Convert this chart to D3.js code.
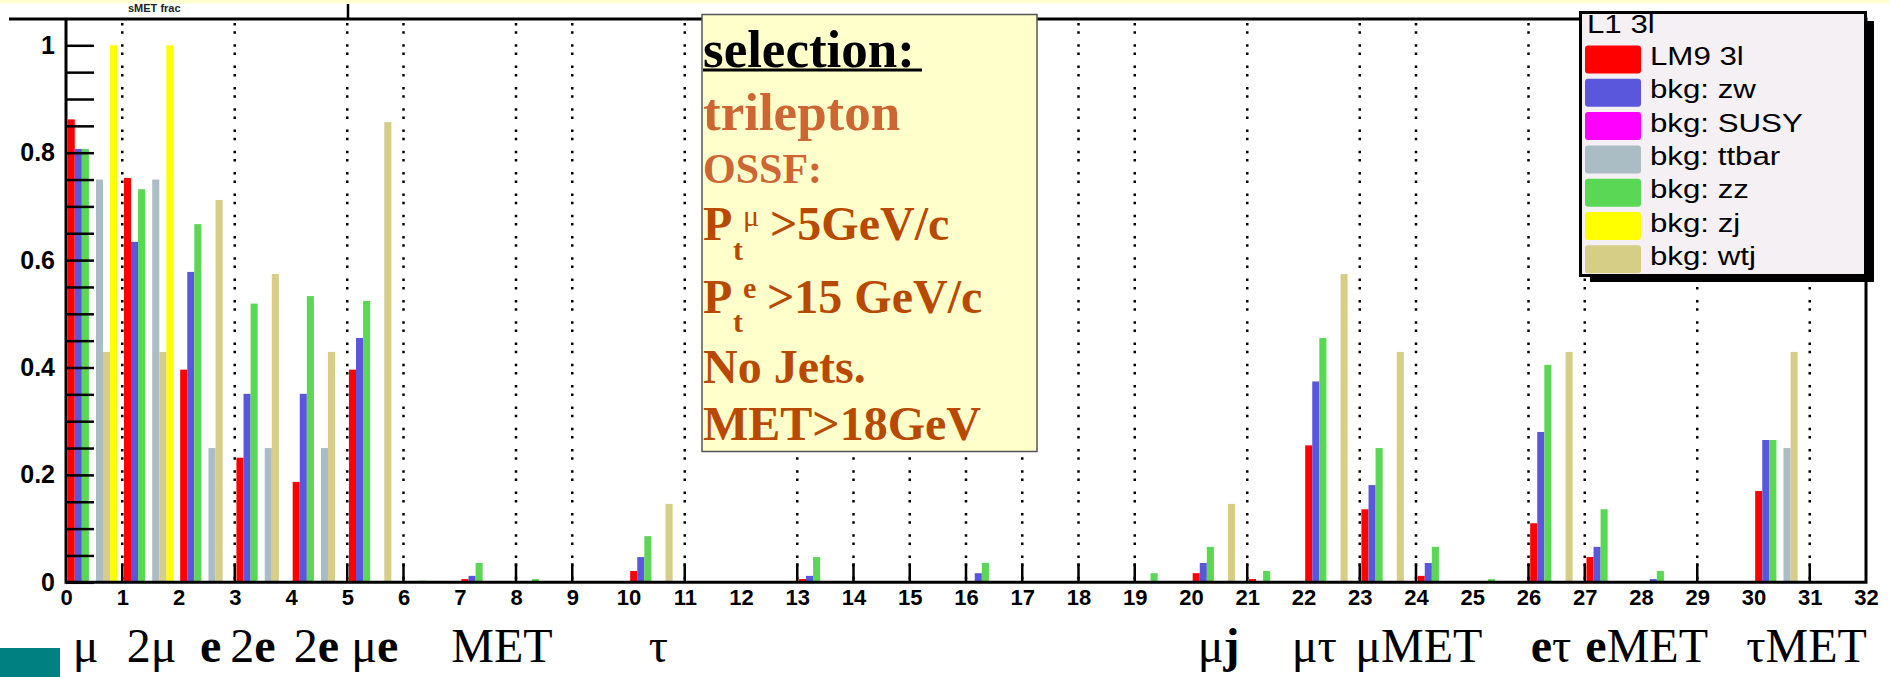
<!DOCTYPE html>
<html>
<head>
<meta charset="utf-8">
<script src="https://cdn.jsdelivr.net/npm/d3@7"></script>
<style>
body { margin: 0; background: #fff; }
svg { display: block; }
</style>
</head>
<body>
<script>
// histogram bins and axis ticks
const bins = d3.range(0, 32);
const xTicks = d3.range(0, 33);
const gridTicks = [1, 3, 5, 6, 8, 9, 11, 13, 14, 15, 16, 17, 18, 19, 21, 23, 24, 26, 27, 29, 31];
const yTicks = d3.range(0, 21).map(i => +(i * 0.05).toFixed(2));
const yLabels = [0, 0.2, 0.4, 0.6, 0.8, 1];

// series, one value per bin
const seriesNames = ['LM9 3l', 'bkg: zw', 'bkg: SUSY', 'bkg: ttbar', 'bkg: zz', 'bkg: zj', 'bkg: wtj'];
const lm9   = [0.862, 0.753, 0.396, 0.232, 0.187, 0.396, 0, 0.006, 0, 0, 0.021, 0, 0, 0.006, 0, 0, 0, 0, 0, 0, 0.017, 0.006, 0.255, 0.136, 0.012, 0, 0.110, 0.047, 0, 0, 0.170, 0];
const zw    = [0.807, 0.634, 0.578, 0.351, 0.351, 0.455, 0, 0.012, 0, 0, 0.047, 0, 0, 0.012, 0, 0, 0.017, 0, 0, 0, 0.036, 0, 0.374, 0.181, 0.036, 0, 0.280, 0.066, 0.006, 0, 0.265, 0];
const susy  = [0, 0, 0, 0, 0, 0, 0, 0, 0, 0, 0, 0, 0, 0, 0, 0, 0, 0, 0, 0, 0, 0, 0, 0, 0, 0, 0, 0, 0, 0, 0, 0];
const ttbar = [0.75, 0.75, 0.25, 0.25, 0.25, 0, 0, 0, 0, 0, 0, 0, 0, 0, 0, 0, 0, 0, 0, 0, 0, 0, 0, 0, 0, 0, 0, 0, 0, 0, 0.25, 0];
const zz    = [0.807, 0.732, 0.667, 0.519, 0.533, 0.524, 0.003, 0.036, 0.006, 0, 0.086, 0, 0, 0.047, 0, 0, 0.036, 0, 0, 0.017, 0.066, 0.021, 0.455, 0.25, 0.066, 0.006, 0.405, 0.136, 0.021, 0, 0.265, 0];
const zj    = [1, 1, 0, 0, 0, 0, 0, 0, 0, 0, 0, 0, 0, 0, 0, 0, 0, 0, 0, 0, 0, 0, 0, 0, 0, 0, 0, 0, 0, 0, 0, 0];
const wtj   = [0.429, 0.429, 0.712, 0.574, 0.429, 0.857, 0, 0, 0, 0, 0.146, 0, 0, 0, 0, 0, 0, 0, 0, 0, 0.146, 0, 0.574, 0.429, 0, 0, 0.429, 0, 0, 0, 0.429, 0];
const seriesValues = [lm9, zw, susy, ttbar, zz, zj, wtj];

// labels written under the axis ('*' toggles bold), and where they start (in bin units)
const catLabels = ['μ', '2μ', '*e*', '2*e*', '2*e*', 'μ*e*', 'MET', 'τ', 'μ*j*', 'μτ', 'μMET', '*e*τ', '*e*MET', 'τMET'];
const catAt = [0.12, 1.08, 2.38, 2.92, 4.05, 5.07, 6.85, 10.36, 20.12, 21.79, 22.92, 26.04, 27.01, 29.87];

// styles
const colors = ['#ff0000', '#5b57dc', '#ff00ff', '#abbdc4', '#5ad755', '#ffff00', '#d6cd86'];
const barOrder = [0, 1, 4, 2, 3, 6, 5];   // slot order inside a bin

const width = 1890, height = 677;

let svg = d3.select('body').append('svg')
    .attr('width', width)
    .attr('height', height);

let x = d3.scaleLinear().domain([0, 32]).range([66, 1866]);
let y = d3.scaleLinear().domain([0, 1.05]).range([582.3, 18.45]);
let binW = x(1) - x(0);
let slot = d3.scaleBand()
    .domain(barOrder)
    .range([0.03 * binW, 0.91 * binW]);

// top strip + cut title
svg.append('rect').attr('x', 0).attr('y', 0).attr('width', width).attr('height', 3.5).attr('fill', '#ffffd0');
svg.append('text')
    .attr('x', 128).attr('y', 12)
    .style('font-family', 'Liberation Sans').style('font-size', '11px').style('font-weight', 'bold')
    .attr('fill', '#222')
    .text('sMET frac');
svg.append('line').attr('x1', 348).attr('x2', 348).attr('y1', 4).attr('y2', 19)
    .attr('stroke', '#000').attr('stroke-width', 2.5);

// dotted grid
svg.append('g')
    .selectAll('line')
    .data(gridTicks)
    .enter()
    .append('line')
    .attr('x1', d => x(d)).attr('x2', d => x(d))
    .attr('y1', 23).attr('y2', 582)
    .attr('stroke', '#000')
    .attr('stroke-width', 2.5)
    .attr('stroke-dasharray', '2.5,5.8,2.5,10.5');

// x tick marks (upward, only where grid is drawn)
svg.append('g')
    .selectAll('line')
    .data(gridTicks)
    .enter()
    .append('line')
    .attr('x1', d => x(d)).attr('x2', d => x(d))
    .attr('y1', y(0) - 19).attr('y2', y(0))
    .attr('stroke', '#000')
    .attr('stroke-width', 2.5);

// bars
let series = seriesNames.map((name, k) => ({ k: k, values: seriesValues[k] }));
svg.append('g')
    .selectAll('g')
    .data(series)
    .enter()
    .append('g')
    .attr('fill', d => colors[d.k])
    .selectAll('rect')
    .data(d => bins.map(i => ({ i: i, v: d.values[i], k: d.k })).filter(b => b.v > 0))
    .enter()
    .append('rect')
    .attr('x', d => x(d.i) + slot(d.k))
    .attr('width', slot.bandwidth())
    .attr('y', d => y(d.v))
    .attr('height', d => y(0) - y(d.v));

// y axis
let yAxis = svg.append('g')
    .attr('transform', 'translate(' + x(0) + ',0)')
    .call(d3.axisLeft(y)
        .tickValues(yTicks)
        .tickSize(-28)
        .tickSizeOuter(0)
        .tickPadding(11)
        .tickFormat(d => yLabels.some(l => Math.abs(l - d) < 1e-6) ? d3.format('~g')(d) : ''));
yAxis.select('.domain').remove();
yAxis.selectAll('line').attr('stroke', '#000').attr('stroke-width', 2.5);
yAxis.selectAll('text')
    .style('font-family', 'Liberation Sans').style('font-size', '25px').style('font-weight', 'bold')
    .attr('fill', '#000');

// x axis labels
let xAxis = svg.append('g')
    .attr('transform', 'translate(0,' + y(0) + ')')
    .call(d3.axisBottom(x)
        .tickValues(xTicks)
        .tickSize(0)
        .tickPadding(7)
        .tickFormat(d3.format('d')));
xAxis.select('.domain').remove();
xAxis.selectAll('text')
    .style('font-family', 'Liberation Sans').style('font-size', '22px').style('font-weight', 'bold')
    .attr('fill', '#000');

// frame
svg.append('path')
    .attr('d', 'M9,19H' + x(32) + 'V' + y(0) + 'H' + x(0) + 'V19')
    .attr('fill', 'none')
    .attr('stroke', '#000')
    .attr('stroke-width', 3);

// selection note
let note = svg.append('g');
note.append('rect')
    .attr('x', 702).attr('y', 14.5).attr('width', 335).attr('height', 437)
    .attr('fill', '#ffffcc').attr('stroke', '#555').attr('stroke-width', 1.5);

function noteText(tx, ty, size, color, txt, bold) {
    return note.append('text')
        .attr('x', tx).attr('y', ty)
        .style('font-family', 'Liberation Serif')
        .style('font-size', size + 'px')
        .style('font-weight', bold === false ? 'normal' : 'bold')
        .attr('fill', color)
        .text(txt);
}
const c1 = '#cc6633', c2 = '#b84a00';
noteText(703, 66.7, 53, '#000', 'selection:');
note.append('rect').attr('x', 703).attr('y', 68.5).attr('width', 219).attr('height', 3).attr('fill', '#000');
noteText(703, 130, 53, c1, 'trilepton');
noteText(703, 182.7, 42, c1, 'OSSF:');
noteText(703, 240, 48, c2, 'P');
noteText(733, 260, 30, c2, 't');
noteText(743, 226, 30, c2, 'μ', false);
noteText(770, 240, 48, c2, '>5GeV/c');
noteText(703, 313, 48, c2, 'P');
noteText(733, 332, 30, c2, 't');
noteText(743, 298, 30, c2, 'e');
noteText(767, 313, 48, c2, '>15 GeV/c');
noteText(703, 383, 48, c2, 'No Jets.');
noteText(703, 440, 48, c2, 'MET>18GeV');

// legend
let lg = svg.append('g');
lg.append('rect').attr('x', 1590).attr('y', 21).attr('width', 284).attr('height', 261).attr('fill', '#000');
lg.append('rect').attr('x', 1580.5).attr('y', 12.5).attr('width', 285).attr('height', 263)
    .attr('fill', '#f4f0f4').attr('stroke', '#000').attr('stroke-width', 3);
lg.append('text')
    .attr('transform', 'translate(1587,33) scale(1.25,1)')
    .style('font-family', 'Liberation Sans').style('font-size', '25px')
    .attr('fill', '#000')
    .text('L1 3l');
let entry = lg.selectAll('.entry')
    .data(seriesNames)
    .enter()
    .append('g')
    .attr('class', 'entry')
    .attr('transform', (d, i) => 'translate(0,' + (59.5 + i * 33.3) + ')');
entry.append('rect')
    .attr('x', 1585).attr('y', -14).attr('width', 56).attr('height', 28)
    .attr('rx', 3)
    .attr('fill', (d, i) => colors[i]);
entry.append('text')
    .attr('transform', 'translate(1650,5.5) scale(1.25,1)')
    .style('font-family', 'Liberation Sans').style('font-size', '25px')
    .attr('fill', '#000')
    .text(d => d);

// labels below the chart
svg.append('rect').attr('x', 0).attr('y', 648).attr('width', 60).attr('height', 29).attr('fill', '#008080');
let cat = svg.append('g')
    .selectAll('text')
    .data(catLabels)
    .enter()
    .append('text')
    .attr('x', (d, i) => x(catAt[i]))
    .attr('y', 662)
    .style('font-family', 'Liberation Serif')
    .style('font-size', '48px')
    .attr('fill', '#000');
cat.each(function(d) {
    let t = d3.select(this);
    d.split('*').forEach((part, j) => {
        if (part === '') return;
        t.append('tspan')
            .style('font-weight', j % 2 ? 'bold' : 'normal')
            .text(part);
    });
});
</script>
</body>
</html>
